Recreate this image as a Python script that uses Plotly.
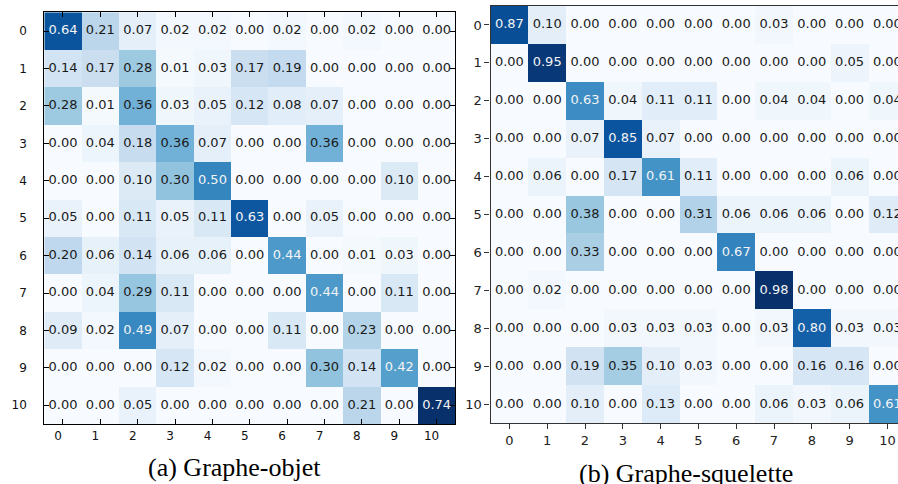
import plotly.graph_objects as go

# Confusion matrices
labels = [str(i) for i in range(11)]

objet = [
    [0.64, 0.21, 0.07, 0.02, 0.02, 0.00, 0.02, 0.00, 0.02, 0.00, 0.00],
    [0.14, 0.17, 0.28, 0.01, 0.03, 0.17, 0.19, 0.00, 0.00, 0.00, 0.00],
    [0.28, 0.01, 0.36, 0.03, 0.05, 0.12, 0.08, 0.07, 0.00, 0.00, 0.00],
    [0.00, 0.04, 0.18, 0.36, 0.07, 0.00, 0.00, 0.36, 0.00, 0.00, 0.00],
    [0.00, 0.00, 0.10, 0.30, 0.50, 0.00, 0.00, 0.00, 0.00, 0.10, 0.00],
    [0.05, 0.00, 0.11, 0.05, 0.11, 0.63, 0.00, 0.05, 0.00, 0.00, 0.00],
    [0.20, 0.06, 0.14, 0.06, 0.06, 0.00, 0.44, 0.00, 0.01, 0.03, 0.00],
    [0.00, 0.04, 0.29, 0.11, 0.00, 0.00, 0.00, 0.44, 0.00, 0.11, 0.00],
    [0.09, 0.02, 0.49, 0.07, 0.00, 0.00, 0.11, 0.00, 0.23, 0.00, 0.00],
    [0.00, 0.00, 0.00, 0.12, 0.02, 0.00, 0.00, 0.30, 0.14, 0.42, 0.00],
    [0.00, 0.00, 0.05, 0.00, 0.00, 0.00, 0.00, 0.00, 0.21, 0.00, 0.74],
]

squelette = [
    [0.87, 0.10, 0.00, 0.00, 0.00, 0.00, 0.00, 0.03, 0.00, 0.00, 0.00],
    [0.00, 0.95, 0.00, 0.00, 0.00, 0.00, 0.00, 0.00, 0.00, 0.05, 0.00],
    [0.00, 0.00, 0.63, 0.04, 0.11, 0.11, 0.00, 0.04, 0.04, 0.00, 0.04],
    [0.00, 0.00, 0.07, 0.85, 0.07, 0.00, 0.00, 0.00, 0.00, 0.00, 0.00],
    [0.00, 0.06, 0.00, 0.17, 0.61, 0.11, 0.00, 0.00, 0.00, 0.06, 0.00],
    [0.00, 0.00, 0.38, 0.00, 0.00, 0.31, 0.06, 0.06, 0.06, 0.00, 0.12],
    [0.00, 0.00, 0.33, 0.00, 0.00, 0.00, 0.67, 0.00, 0.00, 0.00, 0.00],
    [0.00, 0.02, 0.00, 0.00, 0.00, 0.00, 0.00, 0.98, 0.00, 0.00, 0.00],
    [0.00, 0.00, 0.00, 0.03, 0.03, 0.03, 0.00, 0.03, 0.80, 0.03, 0.03],
    [0.00, 0.00, 0.19, 0.35, 0.10, 0.03, 0.00, 0.00, 0.16, 0.16, 0.00],
    [0.00, 0.00, 0.10, 0.00, 0.13, 0.00, 0.00, 0.06, 0.03, 0.06, 0.61],
]

captions = ["(a) Graphe-objet", "(b) Graphe-squelette"]

blues = ['rgb(247,251,255)', 'rgb(222,235,247)', 'rgb(198,219,239)',
         'rgb(158,202,225)', 'rgb(107,174,214)', 'rgb(66,146,198)',
         'rgb(33,113,181)', 'rgb(8,81,156)', 'rgb(8,48,107)']

W, H = 898, 484
serif = "Liberation Serif"


def cell_text(mat, xa, ya):
    zmax = max(max(r) for r in mat)
    xs, ys, ts, cs = [], [], [], []
    for i, row in enumerate(mat):
        for j, v in enumerate(row):
            xs.append(j)
            ys.append(i)
            ts.append(f"{v:.2f}")
            cs.append("#f4f4f4" if v > zmax / 2 else "#1a1a1a")
    return go.Scatter(x=xs, y=ys, text=ts, mode="text", xaxis=xa, yaxis=ya,
                      textfont=dict(family="DejaVu Sans", size=13, color=cs),
                      hoverinfo="skip", showlegend=False, cliponaxis=True)


fig = go.Figure()
fig.add_trace(go.Heatmap(z=objet, x=list(range(11)), y=list(range(11)),
                         colorscale=blues, zmin=0, zmax=max(max(r) for r in objet),
                         showscale=False, xaxis="x", yaxis="y"))
fig.add_trace(cell_text(objet, "x", "y"))
fig.add_trace(go.Heatmap(z=squelette, x=list(range(11)), y=list(range(11)),
                         colorscale=blues, zmin=0, zmax=max(max(r) for r in squelette),
                         showscale=False, xaxis="x2", yaxis="y2"))
fig.add_trace(cell_text(squelette, "x2", "y2"))

tickfont = dict(family="DejaVu Sans", size=12, color="#111")

# left panel: classic style, ticks inside on all sides
left_ax = dict(tickvals=list(range(11)), ticktext=labels, ticks="inside", ticklen=5,
               tickcolor="#000", showline=True, linecolor="#000", linewidth=1,
               mirror="ticks", showgrid=False, zeroline=False, tickfont=tickfont)
# right panel: ticks outside on left/bottom only
right_ax = dict(tickvals=list(range(11)), ticktext=labels, ticks="outside", ticklen=5,
                tickcolor="#333", showline=True, linecolor="#333", linewidth=1.2,
                mirror=True, showgrid=False, zeroline=False,
                tickfont=dict(family="DejaVu Sans", size=13, color="#222"))

fig.update_layout(
    width=W, height=H, autosize=False,
    margin=dict(l=0, r=0, t=0, b=0),
    paper_bgcolor="white", plot_bgcolor="white",
    xaxis=dict(left_ax, domain=[44.3 / W, 455.3 / W], range=[-0.5, 10.5],
               anchor="y", ticklabelstandoff=1, ticklabelshift=-5),
    yaxis=dict(left_ax, domain=[1 - 424 / H, 1 - 12.3 / H], range=[10.5, -0.5],
               anchor="x", ticklabelstandoff=14),
    xaxis2=dict(right_ax, domain=[490.5 / W, 1.0], anchor="y2",
                range=[-0.5, -0.5 + (W - 490.5) / 37.8]),
    yaxis2=dict(right_ax, domain=[1 - 423.3 / H, 1 - 6 / H], range=[10.5, -0.5],
                anchor="x2"),
    annotations=[
        dict(text=captions[0], x=234.5 / W, y=1 - 467 / H, xref="paper", yref="paper",
             showarrow=False, xanchor="center", yanchor="middle",
             font=dict(family=serif, size=26, color="#000")),
        dict(text=captions[1], x=686 / W, y=1 - 473 / H, xref="paper", yref="paper",
             showarrow=False, xanchor="center", yanchor="middle",
             font=dict(family=serif, size=26, color="#000")),
    ],
)

fig.write_html("out.html", config={"displayModeBar": False},
               post_script="document.body.style.margin='0';")
